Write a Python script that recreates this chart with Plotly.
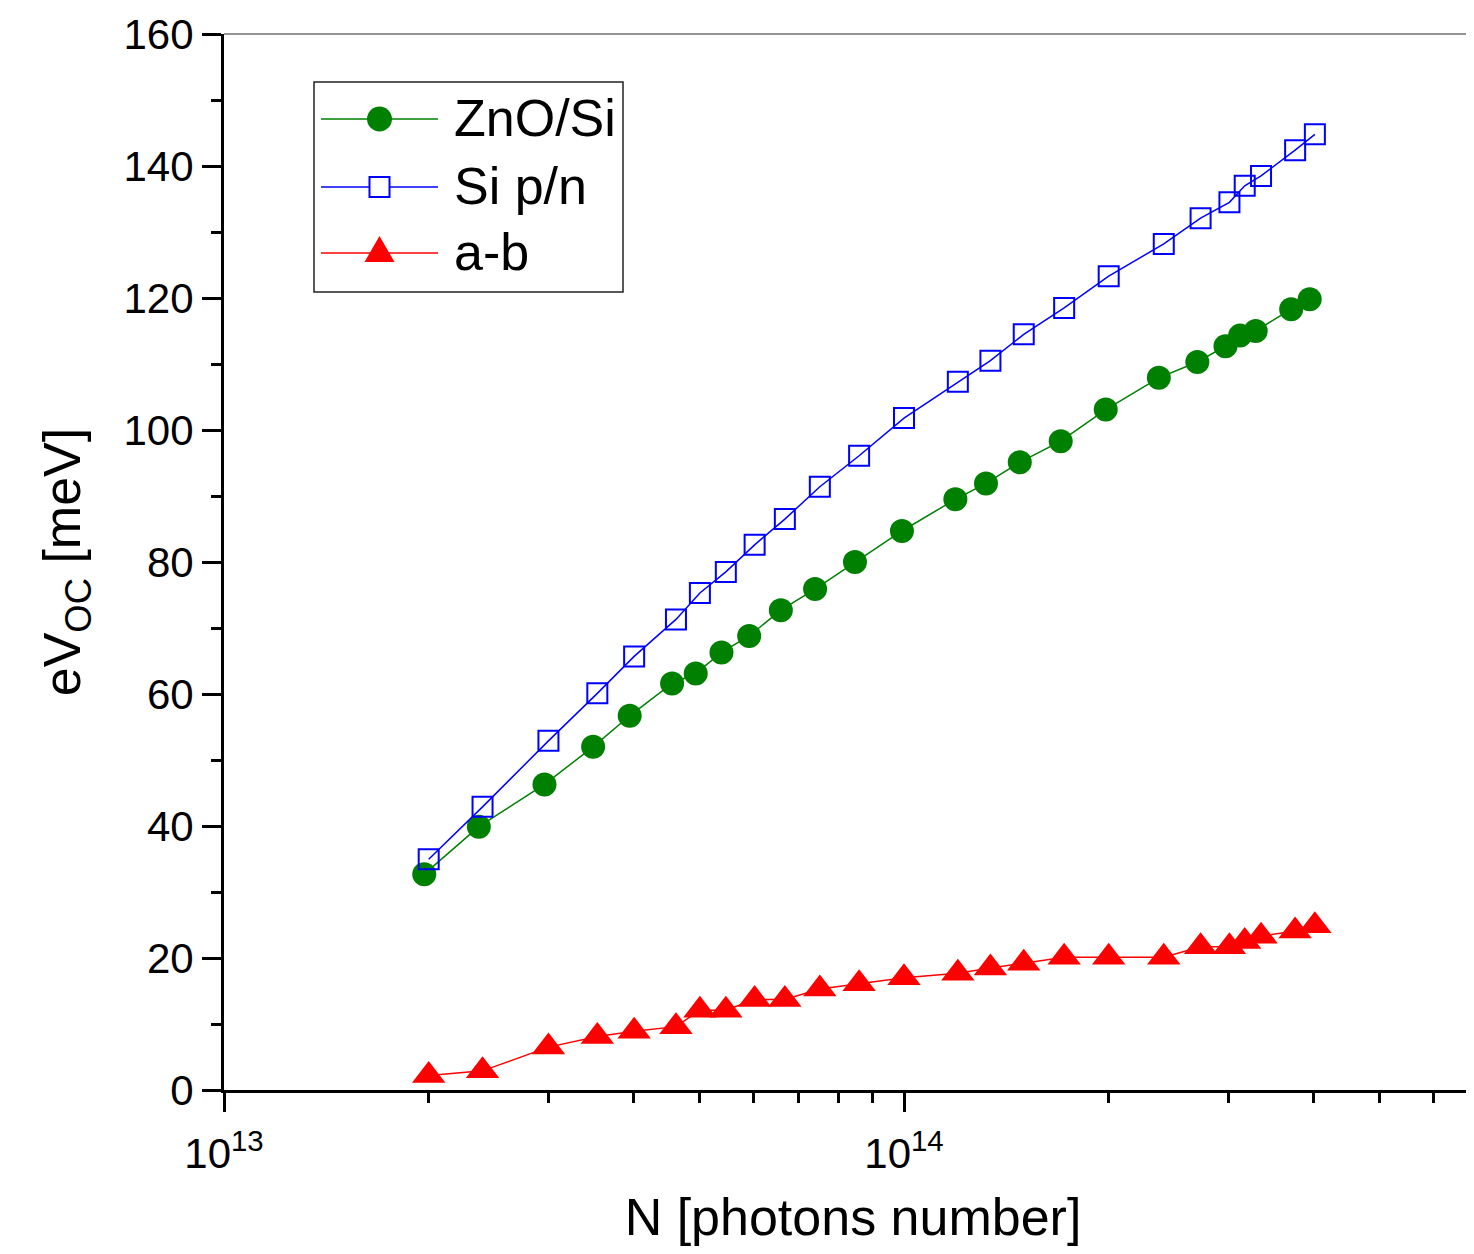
import plotly.graph_objects as go

# ---- data ----
N_zno = [1.97e13, 2.37e13, 2.96e13, 3.49e13, 3.95e13, 4.56e13, 4.94e13, 5.39e13, 5.92e13,
         6.59e13, 7.40e13, 8.47e13, 9.93e13, 1.19e14, 1.32e14, 1.48e14, 1.70e14, 1.98e14,
         2.37e14, 2.70e14, 2.97e14, 3.12e14, 3.29e14, 3.71e14, 3.95e14]
V_zno = [32.7, 39.9, 46.3, 52.0, 56.7, 61.6, 63.1, 66.3, 68.8, 72.7, 75.9, 80.0, 84.7,
         89.5, 91.9, 95.1, 98.3, 103.1, 107.9, 110.3, 112.7, 114.3, 115.0, 118.3, 119.8]

N_si = [2.00e13, 2.40e13, 3.00e13, 3.54e13, 4.01e13, 4.62e13, 5.01e13, 5.47e13, 6.03e13,
        6.68e13, 7.52e13, 8.59e13, 1.00e14, 1.20e14, 1.34e14, 1.50e14, 1.72e14, 2.00e14,
        2.41e14, 2.73e14, 3.01e14, 3.17e14, 3.35e14, 3.76e14, 4.02e14]
V_si = [34.95, 42.9, 52.9, 60.1, 65.7, 71.3, 75.3, 78.5, 82.6, 86.5, 91.4, 96.1, 101.8,
        107.3, 110.5, 114.5, 118.5, 123.3, 128.2, 132.1, 134.5, 137.0, 138.5, 142.4, 144.8]

V_ab = [2.2, 2.9, 6.5, 8.1, 8.9, 9.6, 12.1, 12.1, 13.7, 13.7, 15.3, 16.1, 17.0,
        17.7, 18.5, 19.2, 20.1, 20.1, 20.1, 21.7, 21.7, 22.5, 23.3, 24.1, 24.9]

series_names = ["ZnO/Si", "Si p/n", "a-b"]
x_major = [1e13, 1e14]
x_major_text = ["10<sup>13</sup>", "10<sup>14</sup>"]
x_minor = [2e13, 3e13, 4e13, 5e13, 6e13, 7e13, 8e13, 9e13, 2e14, 3e14, 4e14, 5e14, 6e14]

FONT = "Liberation Sans, Arial, sans-serif"
GREEN = "#008000"
BLUE = "#0000FF"
RED = "#FF0000"

PLOT_W = 1258.0   # plot-area width in px (runs slightly past the window edge, as in the reference)
PLOT_H = 1056.0
DECADE_PX = 680.0

fig = go.Figure()
fig.add_trace(go.Scatter(x=N_zno, y=V_zno, mode="lines+markers", name=series_names[0],
                         line=dict(color=GREEN, width=1.5),
                         marker=dict(symbol="circle", size=24, color=GREEN),
                         showlegend=False))
fig.add_trace(go.Scatter(x=N_si, y=V_si, mode="lines+markers", name=series_names[1],
                         line=dict(color=BLUE, width=1.5),
                         marker=dict(symbol="square-open", size=20, color=BLUE,
                                     line=dict(color=BLUE, width=2)),
                         showlegend=False))
fig.add_trace(go.Scatter(x=N_si, y=V_ab, mode="lines+markers", name=series_names[2],
                         line=dict(color=RED, width=1.5),
                         marker=dict(symbol="triangle-up", size=29, color=RED),
                         showlegend=False))

# ---- manual legend (box, sample lines, symbols, labels) ----
def px_x(p):
    return (p - 224) / PLOT_W

def px_y(p):
    return (1090 - p) / PLOT_H

shapes = []
annotations = []
shapes.append(dict(type="rect", xref="paper", yref="paper",
                   x0=px_x(314), x1=px_x(623), y0=px_y(292), y1=px_y(82),
                   line=dict(color="#222222", width=1.5), fillcolor="white", layer="above"))
rows = [119, 187, 253]
colors = [GREEN, BLUE, RED]
for ry, c, nm in zip(rows, colors, series_names):
    shapes.append(dict(type="line", xref="paper", yref="paper",
                       x0=px_x(321), x1=px_x(438), y0=px_y(ry), y1=px_y(ry),
                       line=dict(color=c, width=1.5), layer="above"))
    annotations.append(dict(text=nm, xref="paper", yref="paper", x=px_x(452), y=px_y(ry - 1),
                            xanchor="left", yanchor="middle", showarrow=False,
                            font=dict(family=FONT, size=52, color="black")))
mx = px_x(379.5)
shapes.append(dict(type="circle", xref="paper", yref="paper", xsizemode="pixel", ysizemode="pixel",
                   xanchor=mx, yanchor=px_y(rows[0]), x0=-12.5, x1=12.5, y0=-12.5, y1=12.5,
                   fillcolor=GREEN, line=dict(color=GREEN, width=0), layer="above"))
shapes.append(dict(type="rect", xref="paper", yref="paper", xsizemode="pixel", ysizemode="pixel",
                   xanchor=mx, yanchor=px_y(rows[1]), x0=-10, x1=10, y0=-10, y1=10,
                   fillcolor="white", line=dict(color=BLUE, width=2), layer="above"))
shapes.append(dict(type="path", xref="paper", yref="paper", xsizemode="pixel", ysizemode="pixel",
                   xanchor=mx, yanchor=px_y(rows[2]),
                   path="M-15,-9 L15,-9 L0,17 Z",
                   fillcolor=RED, line=dict(color=RED, width=0), layer="above"))

# top frame line (thin gray)
shapes.append(dict(type="line", xref="paper", yref="paper", x0=0, x1=1, y0=1, y1=1,
                   line=dict(color="#707070", width=1.5)))

fig.update_layout(
    width=1474, height=1254,
    margin=dict(l=216, r=0, t=26, b=172),
    paper_bgcolor="white", plot_bgcolor="white",
    shapes=shapes, annotations=annotations,
    font=dict(family=FONT, color="black"),
)

fig.update_xaxes(
    type="log", range=[13, 13 + PLOT_W / DECADE_PX],
    showgrid=False, zeroline=False,
    showline=True, linecolor="black", linewidth=3,
    ticks="outside", ticklen=19, tickwidth=3, tickcolor="black",
    tickmode="array", tickvals=x_major, ticktext=x_major_text,
    ticklabelstandoff=6,
    tickfont=dict(family=FONT, size=42, color="black"),
    minor=dict(tickmode="array", tickvals=x_minor, ticks="outside", ticklen=10,
               tickwidth=3, tickcolor="black", showgrid=False),
    title=dict(text="N [photons number]", font=dict(family=FONT, size=52, color="black"),
               standoff=23),
    automargin=False,
)
fig.update_yaxes(
    range=[0, 160],
    showgrid=False, zeroline=False,
    showline=True, linecolor="black", linewidth=3,
    ticks="outside", ticklen=19, tickwidth=3, tickcolor="black",
    tick0=0, dtick=20,
    tickfont=dict(family=FONT, size=42, color="black"),
    minor=dict(tick0=0, dtick=10, ticks="outside", ticklen=10, tickwidth=3,
               tickcolor="black", showgrid=False),
    title=dict(text="eV<sub>OC</sub> [meV]", font=dict(family=FONT, size=52, color="black"),
               standoff=27),
    automargin=False,
)

fig.write_html("out.html")
